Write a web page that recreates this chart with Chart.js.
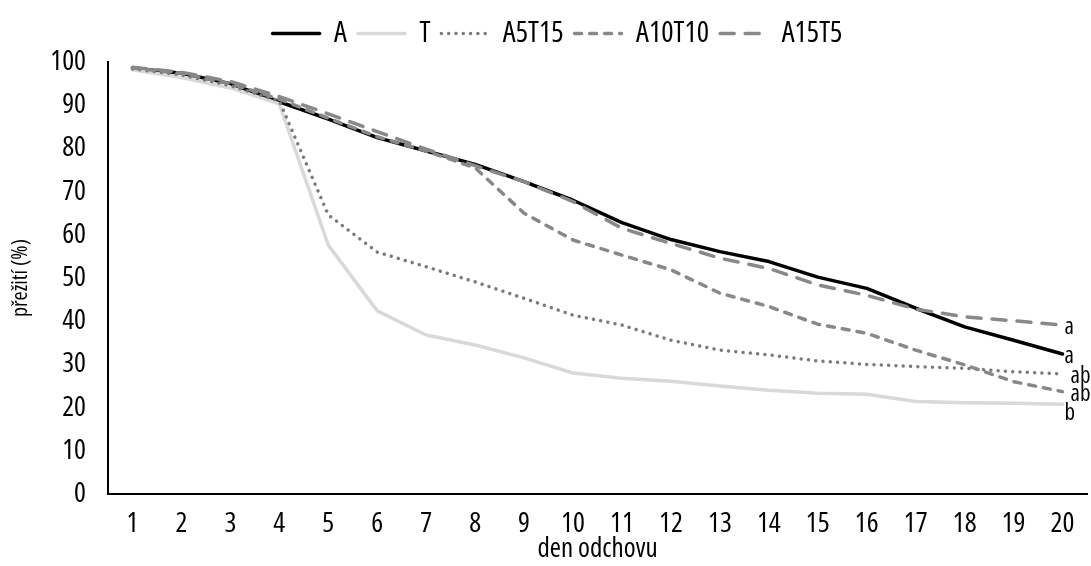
<!DOCTYPE html>
<html>
<head>
<meta charset="utf-8">
<script src="https://cdn.jsdelivr.net/npm/chart.js@4/dist/chart.umd.min.js"></script>
<style>
  html, body { margin: 0; padding: 0; background: #fff; }
  #obal { width: 1091px; height: 566px; }
</style>
</head>
<body>
<div id="obal"><canvas id="graf"></canvas></div>
<script>
// ↓ Data ↓

const dny = ['1', '2', '3', '4', '5', '6', '7', '8', '9', '10', '11', '12', '13', '14', '15', '16', '17', '18', '19', '20'];

const serieA = [98.6, 97.4, 95, 90.8, 86.8, 82.5, 79.4, 76.3, 72.3, 68, 62.8, 58.9, 56.1, 53.8, 50.2, 47.6, 43, 38.7, 35.6, 32.4];
const serieT = [98.2, 96.4, 94, 90.3, 57.6, 42.4, 36.8, 34.5, 31.5, 28, 26.8, 26.1, 25, 24, 23.3, 23.1, 21.4, 21.1, 21, 20.8];
const serieA5T15 = [98.4, 97, 94.5, 91, 64.6, 56, 52.6, 49.1, 45.3, 41.4, 39.1, 35.6, 33.3, 32.2, 30.8, 30, 29.5, 29.1, 28.3, 27.8];
const serieA10T10 = [98.6, 97.4, 95, 91.4, 87, 82.7, 79.4, 75.5, 65, 58.8, 55.3, 51.9, 46.5, 43.4, 39.3, 37.2, 33.3, 29.9, 26, 23.7];
const serieA15T5 = [98.8, 97.6, 95.5, 92, 88, 83.9, 79.8, 76, 72.3, 67.7, 61.5, 58, 54.6, 52.2, 48.4, 46, 42.8, 41, 40.1, 39.1];

// písmena statistické významnosti na konci čar (A, T, A5T15, A10T10, A15T5)
const pismena = ['a', 'b', 'ab', 'ab', 'a'];

// ↓ Vzhled ↓

// úzké písmo: Open Sans má osu šířky, 'condensed' jde přes weight
const pismo = "'Open Sans', 'Roboto', sans-serif";
const uzke = 'condensed';
const posunX = [2, 2, 8, 8, 2];
const posunY = [2, 9, 3, 3, 2];

const pismenkaPlugin = {
    id: 'pismenka',
    afterDatasetsDraw(chart) {
        const ctx = chart.ctx;
        ctx.save();
        ctx.font = uzke + ' 23px ' + pismo;
        ctx.fillStyle = '#000';
        ctx.textAlign = 'left';
        ctx.textBaseline = 'middle';
        chart.data.datasets.forEach((ds, i) => {
            const meta = chart.getDatasetMeta(i);
            const bod = meta.data[meta.data.length - 1];
            ctx.fillText(pismena[i], bod.x + posunX[i], bod.y + posunY[i]);
        });
        ctx.restore();
    }
};

// legenda: víc místa pod ní a mírný posun doprava
const legendaPlugin = {
    id: 'legendaPosun',
    beforeInit(chart) {
        if (!chart.legend) return;
        const fit = chart.legend.fit;
        chart.legend.fit = function () {
            fit.call(this);
            this.height += 4;
        };
    },
    afterLayout(chart) {
        if (!chart.legend) return;
        chart.legend.left += 14;
        chart.legend.right += 14;
    }
};

function cara(nazev, data, barva, sirka, carky, poradi) {
    return {
        label: nazev,
        data: data,
        borderColor: barva,
        backgroundColor: barva,
        borderWidth: sirka,
        borderDash: carky,
        borderCapStyle: 'round',
        borderJoinStyle: 'round',
        fill: false,
        tension: 0,
        pointRadius: 0,
        pointHoverRadius: 0,
        pointStyle: 'line',
        order: poradi,
    };
}

new Chart(document.getElementById('graf'), {
    type: 'line',
    data: {
        labels: dny,
        datasets: [
            cara('A', serieA, '#000000', 3.5, [], 4),
            cara('T', serieT, '#d9d9d9', 3.5, [], 3),
            cara('A5T15', serieA5T15, '#7a7a7a', 3.5, [0.01, 7.3], 2),
            cara('A10T10', serieA10T10, '#888888', 3.5, [7, 8], 1),
            cara('A15T5', serieA15T5, '#888888', 3.5, [14, 11], 0),
        ]
    },
    plugins: [pismenkaPlugin, legendaPlugin],
    options: {
        responsive: true,
        maintainAspectRatio: false,
        animation: false,
        layout: {
            padding: { top: 8, right: 4, left: 0, bottom: 0 }
        },
        plugins: {
            tooltip: { enabled: false },
            legend: {
                position: 'top',
                labels: {
                    usePointStyle: true,
                    pointStyleWidth: 47,
                    boxHeight: 29,
                    padding: 11,
                    color: '#000',
                    font: { family: pismo, size: 29, weight: uzke },
                    sort: (a, b) => a.datasetIndex - b.datasetIndex,
                    generateLabels: (chart) => Chart.defaults.plugins.legend.labels.generateLabels(chart).map((p) => {
                        const ds = chart.data.datasets[p.datasetIndex];
                        p.lineDash = ds.borderDash;
                        p.lineWidth = ds.borderWidth;
                        p.strokeStyle = ds.borderColor;
                        p.lineCap = 'round';
                        return p;
                    }),
                },
            },
        },
        scales: {
            y: {
                min: 0,
                max: 100,
                afterFit: (osa) => { osa.width = 108; },
                ticks: {
                    stepSize: 10,
                    padding: 22,
                    color: '#000',
                    font: { family: pismo, size: 28, weight: uzke },
                },
                grid: { display: false, drawTicks: false },
                border: { display: true, color: '#000', width: 2 },
                title: {
                    display: true,
                    text: 'přežití (%)',
                    color: '#000',
                    font: { family: pismo, size: 22, weight: uzke },
                    padding: { top: 8, bottom: 0 },
                },
            },
            x: {
                offset: true,
                afterFit: (osa) => { osa.height = 72; },
                ticks: {
                    padding: 13,
                    maxRotation: 0,
                    autoSkip: false,
                    color: '#000',
                    font: { family: pismo, size: 28, weight: uzke },
                },
                grid: { display: false, drawTicks: false },
                border: { display: true, color: '#000', width: 2 },
                title: {
                    display: true,
                    text: 'den odchovu',
                    color: '#000',
                    font: { family: pismo, size: 27, weight: uzke },
                    padding: 0,
                },
            },
        },
    },
});
</script>
</body>
</html>
